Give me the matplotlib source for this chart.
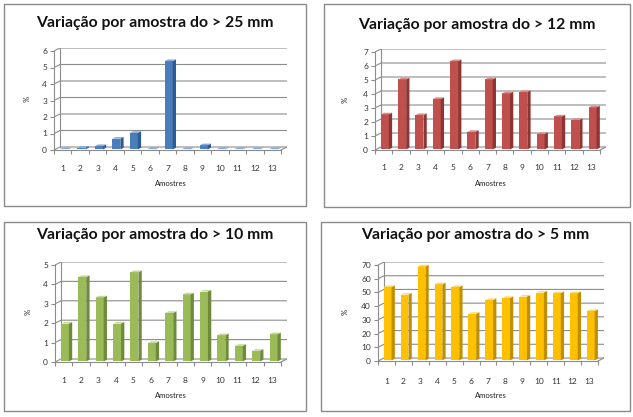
import matplotlib
matplotlib.use("Agg")
import matplotlib.pyplot as plt
from matplotlib.patches import Rectangle, Polygon

plt.rcParams['font.family'] = ['Lato', 'DejaVu Sans']

FIG_W, FIG_H = 633, 417

amostras = [str(i) for i in range(1, 14)]

titles = ['Variação por amostra do > 25 mm', 'Variação por amostra do > 12 mm',
          'Variação por amostra do > 10 mm', 'Variação por amostra do > 5 mm']
vals_25 = [0.02, 0.1, 0.2, 0.65, 1.0, 0.02, 5.35, 0.02, 0.25, 0.02, 0.02, 0.02, 0.02]
vals_12 = [2.5, 5.0, 2.45, 3.6, 6.3, 1.25, 5.0, 4.0, 4.1, 1.1, 2.35, 2.1, 3.0]
vals_10 = [1.95, 4.35, 3.3, 1.95, 4.6, 0.95, 2.5, 3.45, 3.6, 1.35, 0.8, 0.55, 1.4]
vals_5 = [53.5, 48, 68.5, 55.5, 53.5, 34, 44, 45.5, 46.5, 49.5, 49, 49, 36]
y_ticks_25 = [0, 1, 2, 3, 4, 5, 6]
y_ticks_12 = [0, 1, 2, 3, 4, 5, 6, 7]
y_ticks_10 = [0, 1, 2, 3, 4, 5]
y_ticks_5 = [0, 10, 20, 30, 40, 50, 60, 70]

# face, side, top colours
colors = [('#4A7EBB', '#2E5B92', '#86AADB'),
          ('#C0504D', '#8C3533', '#DB8A87'),
          ('#9BBB59', '#6E8A3A', '#C5DA9A'),
          ('#FFC000', '#C08F00', '#FFDA6A')]

# panel layout in pixels: border box, plot box, text positions
panels = [
    dict(box=(4, 4, 306, 206), ax=(54, 287, 48, 150), title_y=23, xt_y=165, xl_y=184, yl_x=27),
    dict(box=(324, 4, 630, 207), ax=(375, 606, 49, 150), title_y=25, xt_y=164, xl_y=184, yl_x=345),
    dict(box=(4, 222, 306, 411), ax=(55, 287, 262, 362), title_y=235, xt_y=377, xl_y=395, yl_x=28),
    dict(box=(321, 222, 630, 411), ax=(378, 604, 262, 361), title_y=235, xt_y=377, xl_y=396, yl_x=345),
]
series = [vals_25, vals_12, vals_10, vals_5]
yticks = [y_ticks_25, y_ticks_12, y_ticks_10, y_ticks_5]

fig = plt.figure(figsize=(FIG_W / 100, FIG_H / 100), dpi=100)

def fx(px):
    return px / FIG_W

def fy(py):
    return 1 - py / FIG_H

grid_c = '#8C8C8C'
dxp, dyp = 6, 3  # depth of the pseudo 3d box in px

for p, vals, ticks, (face, side, top), title in zip(panels, series, yticks, colors, titles):
    x0, y0, x1, y1 = p['box']
    fig.patches.append(Rectangle((fx(x0), fy(y1)), fx(x1 - x0), (y1 - y0) / FIG_H,
                                 transform=fig.transFigure, fill=False,
                                 edgecolor='#8A8A8A', lw=1.0))
    aL, aR, aT, aB = p['ax']
    W, H = aR - aL, aB - aT
    ax = fig.add_axes([fx(aL), fy(aB), W / FIG_W, H / FIG_H])
    n = len(vals)
    ymax = ticks[-1]
    xr = n / (1 - dxp / W)
    yr = ymax / (1 - dyp / H)
    ddx, ddy = xr - n, yr - ymax
    ax.set_xlim(0, xr)
    ax.set_ylim(0, yr)

    # back wall grid with diagonal to front axis
    for v in ticks:
        ax.plot([0, ddx, xr], [v, v + ddy, v + ddy], color=grid_c, lw=0.8, zorder=1)
    ax.plot([ddx, ddx], [ddy, ymax + ddy], color=grid_c, lw=0.8, zorder=1)
    ax.plot([n, xr], [0, ddy], color=grid_c, lw=0.8, zorder=1)

    # bars with side and top faces
    w = 0.46
    bx, by = ddx * 0.55, ddy * 0.55
    ox, oy = ddx * 0.2, ddy * 0.2
    for i, v in enumerate(vals):
        c = i + 0.5 + ox
        l, r = c - w / 2, c + w / 2
        ax.bar(c, v, width=w, bottom=oy, color=face, edgecolor='none', zorder=3)
        ax.add_patch(Polygon([(r, oy), (r + bx, oy + by), (r + bx, oy + v + by), (r, oy + v)],
                             closed=True, facecolor=side, edgecolor='none', zorder=3))
        ax.add_patch(Polygon([(l, oy + v), (r, oy + v), (r + bx, oy + v + by), (l + bx, oy + v + by)],
                             closed=True, facecolor=top, edgecolor='none', zorder=3))

    for s in ['top', 'right']:
        ax.spines[s].set_visible(False)
    ax.spines['left'].set_bounds(0, ymax)
    ax.spines['bottom'].set_bounds(0, n)
    for s in ['left', 'bottom']:
        ax.spines[s].set_color(grid_c)
        ax.spines[s].set_linewidth(0.8)
    ax.set_yticks(ticks)
    ax.set_yticklabels([str(t) for t in ticks])
    ax.set_xticks([i + 0.5 for i in range(n)])
    ax.set_xticklabels(amostras)
    ax.set_xticks(range(n + 1), minor=True)
    ax.tick_params(axis='x', which='major', length=0, labelsize=6, colors='#333333',
                   pad=(p['xt_y'] - aB) - 4)
    ax.tick_params(axis='x', which='minor', length=3, color=grid_c, width=0.8)
    ax.tick_params(axis='y', length=3, color=grid_c, width=0.8, labelsize=6,
                   labelcolor='#333333', pad=2)
    ax.patch.set_alpha(0)

    fig.text(fx((x0 + x1) / 2), fy(p['title_y']), title, ha='center', va='center',
             fontsize=11.3, fontweight='bold', color='#111111')
    fig.text(fx((aL + aR) / 2), fy(p['xl_y']), 'Amostres', ha='center', va='center',
             fontsize=5.5, color='#222222')
    fig.text(fx(p['yl_x']), fy((aT + aB) / 2), '%', ha='center', va='center',
             fontsize=5.5, color='#222222', rotation=90)

fig.savefig('out.png', dpi=100)
